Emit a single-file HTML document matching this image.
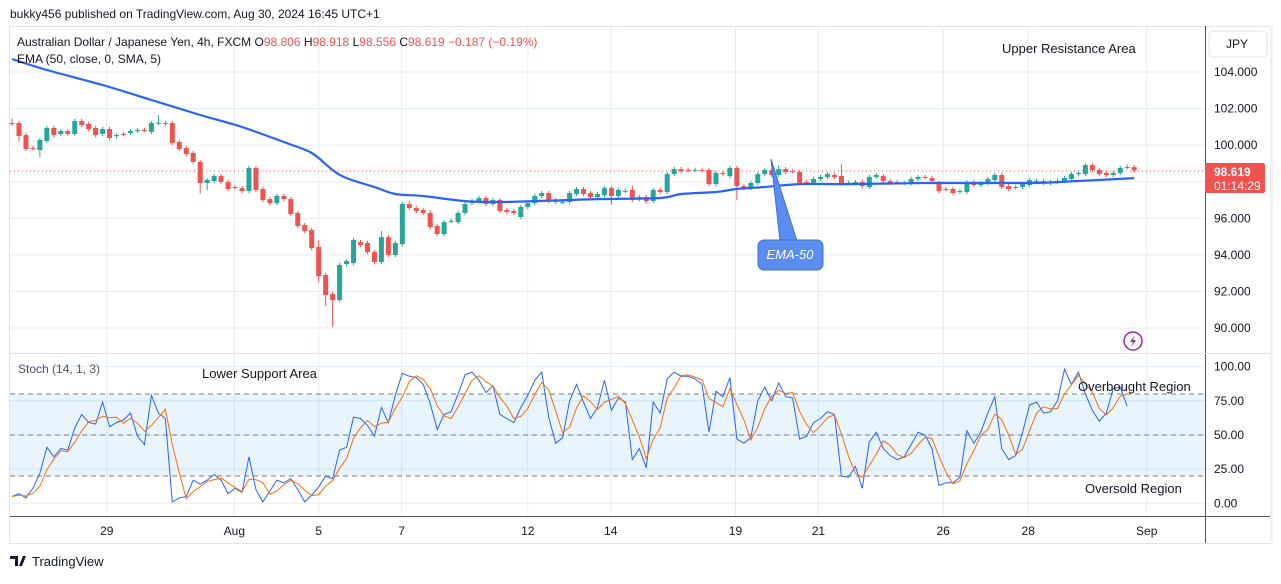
<!DOCTYPE html>
<html><head><meta charset="utf-8">
<style>
body{margin:0;width:1281px;height:579px;background:#fff;overflow:hidden;font-family:"Liberation Sans",sans-serif;}
svg text{font-family:"Liberation Sans",sans-serif;}
</style></head>
<body>
<svg id="chart" width="1281" height="579" viewBox="0 0 1281 579" xmlns="http://www.w3.org/2000/svg">
  <text x="10" y="18" font-size="12" fill="#131722">bukky456 published on TradingView.com, Aug 30, 2024 16:45 UTC+1</text>
  <rect x="9.5" y="26.5" width="1262" height="517" fill="none" stroke="#e0e3eb" stroke-width="1"/>
  <rect x="1270" y="26" width="3" height="518" fill="#eef0f3"/>
  <g id="grid"></g>
  <rect x="10" y="394" width="1195" height="82" fill="#2196f3" fill-opacity="0.1"/>
  <g id="stochlevels"></g>
  <line x1="10" x2="1205" y1="171" y2="171" stroke="#ef5350" stroke-width="1" stroke-dasharray="1,3"/>
  <g id="candles"></g>
  <path id="ema" fill="none" stroke="#2962ff" stroke-width="2.2" stroke-linejoin="round"/>
  <path id="stochK" fill="none" stroke="#2962ff" stroke-width="1"/>
  <path id="stochD" fill="none" stroke="#ff6d00" stroke-width="1"/>
  <line x1="1205.5" x2="1205.5" y1="26" y2="543" stroke="#50535e"/>
  <line x1="10" x2="1270" y1="353.5" y2="353.5" stroke="#e0e3eb"/>
  <line x1="10" x2="1205" y1="516.5" y2="516.5" stroke="#50535e"/>
  <line x1="1205" x2="1270" y1="516.5" y2="516.5" stroke="#50535e"/>
  <g id="axes"></g>
  <rect x="1209" y="31" width="58" height="26" rx="4" fill="#fff" stroke="#e0e3eb"/>
  <text x="1226" y="48" font-size="12" fill="#131722">JPY</text>
  <text x="17" y="46" font-size="12" fill="#131722">Australian Dollar / Japanese Yen, 4h, FXCM <tspan fill="#131722">O</tspan><tspan fill="#ef5350">98.806</tspan> <tspan fill="#131722">H</tspan><tspan fill="#ef5350">98.918</tspan> <tspan fill="#131722">L</tspan><tspan fill="#ef5350">98.556</tspan> <tspan fill="#131722">C</tspan><tspan fill="#ef5350">98.619 −0.187 (−0.19%)</tspan></text>
  <text x="17" y="63" font-size="12" fill="#131722">EMA (50, close, 0, SMA, 5)</text>
  <text x="18" y="373" font-size="12" fill="#50535e">Stoch (14, 1, 3)</text>
  <text x="1002" y="53" font-size="13" fill="#131722">Upper Resistance Area</text>
  <text x="202" y="378" font-size="13" fill="#131722">Lower Support Area</text>
  <text x="1078" y="391" font-size="13" fill="#131722">Overbought Region</text>
  <text x="1085" y="493" font-size="13" fill="#131722">Oversold Region</text>
  <path d="M771,159 L780,241 L797,241 Z" fill="#5b8def" stroke="#3d6fd6"/>
  <rect x="758" y="240" width="65" height="30" rx="6" fill="#5b8def" stroke="#3d6fd6"/>
  <text x="790" y="259" font-size="13" font-style="italic" fill="#fff" text-anchor="middle">EMA-50</text>
  <rect x="1205" y="163" width="60" height="30" rx="2" fill="#ef5350"/>
  <text x="1214" y="176" font-size="12" font-weight="bold" fill="#fff">98.619</text>
  <text x="1214" y="190" font-size="12" fill="#fff">01:14:29</text>
  <circle cx="1133" cy="341" r="9" fill="#fff" stroke="#9c27b0" stroke-width="1.5"/>
  <path d="M1135,335 L1130,342 L1133,342 L1131,347 L1136,340 L1133,340 Z" fill="#9c27b0"/>
  <text x="32" y="566" font-size="13" fill="#131722">TradingView</text>
  <path d="M10,556 h8 v10 h-3 v-7 h-5 Z M19,566 l4,-10 h3 l-4,10 Z" fill="#131722"/>
</svg>
<script>
// price data (AUD/JPY 4h)
const opens=[101.21,101.21,100.55,99.84,99.73,100.23,100.94,100.61,100.77,100.61,101.32,101.16,100.94,100.61,100.88,100.50,100.61,100.66,100.77,100.83,100.72,101.21,101.21,101.21,100.17,99.84,99.57,99.08,97.93,98.04,98.31,97.98,97.71,97.65,97.49,98.75,97.60,97.05,96.83,97.22,97.05,96.29,95.63,95.36,94.43,92.90,91.86,91.53,93.50,93.55,94.70,94.65,94.15,93.61,94.97,93.99,94.59,96.78,96.56,96.45,96.29,95.58,95.14,95.85,95.79,96.29,96.83,96.94,97.11,96.78,97.00,96.45,96.40,96.07,96.62,96.83,97.22,97.38,97.00,96.89,96.89,97.33,97.60,97.38,97.16,97.27,97.65,97.22,97.49,97.55,97.05,97.16,96.94,97.55,97.44,98.42,98.69,98.64,98.64,98.64,98.64,97.87,98.48,98.31,98.75,97.76,97.65,97.93,98.42,98.64,98.37,98.69,98.58,98.53,97.98,97.93,98.15,98.26,98.37,98.31,97.93,97.93,97.98,97.71,98.26,98.31,98.04,97.98,97.93,97.93,98.15,98.26,98.20,97.93,97.60,97.60,97.44,97.44,97.98,97.82,97.93,98.09,98.37,97.76,97.71,97.71,97.82,98.04,98.04,97.93,97.98,98.04,98.15,98.42,98.42,98.91,98.64,98.48,98.37,98.48,98.80,98.80];
const closes=[101.18,100.50,99.79,99.82,100.28,100.94,100.55,100.77,100.61,101.32,101.10,100.88,100.55,100.88,100.39,100.55,100.60,100.77,100.83,100.82,101.21,101.23,101.16,100.12,99.79,99.51,99.08,97.93,98.09,98.31,97.98,97.60,97.70,97.49,98.75,97.55,97.00,96.83,97.22,97.05,96.23,95.58,95.30,94.37,92.84,91.80,91.53,93.44,93.66,94.81,94.54,94.15,93.61,94.97,93.99,94.65,96.78,96.56,96.40,96.29,95.52,95.14,95.79,95.86,96.29,96.78,96.94,97.11,96.78,97.00,96.40,96.34,96.29,96.62,96.83,97.22,97.38,96.94,96.89,96.90,97.38,97.60,97.33,97.16,97.33,97.65,97.22,97.55,97.50,97.00,97.16,96.94,97.55,97.44,98.42,98.69,98.58,98.63,98.65,98.63,97.87,98.48,98.42,98.75,97.76,97.65,97.93,98.42,98.64,98.37,98.69,98.53,98.57,97.93,97.97,98.15,98.26,98.42,98.26,97.87,97.94,97.98,97.76,98.26,98.37,98.04,97.93,97.97,97.94,98.15,98.26,98.25,98.04,97.49,97.59,97.38,97.49,97.98,97.82,97.93,98.15,98.37,97.71,97.60,97.70,97.87,98.09,98.05,97.93,97.98,98.04,98.20,98.42,98.48,98.91,98.64,98.42,98.37,98.48,98.75,98.81,98.62];
const highExtra={21:101.65,27:99.20,44:94.80,53:95.30,57:96.95,60:96.45,89:97.80,104:98.85,110:98.90,119:98.95,161:98.92,0:101.45};
const lowExtra={46:90.05,45:91.20,27:97.35,28:97.55,104:97.00,86:96.75,44:92.50,1:100.20,4:99.35};
// EMA-50 samples (candle index, value)
const emaIdx=[0,5,13,20,27,33,39,43,46,48,52,55,59,65,70,75,80,84,93,96,101,104,108,113,120,132,146,153,161];
const emaVal=[104.71,104.11,103.29,102.47,101.65,100.99,100.17,99.57,98.64,98.20,97.71,97.33,97.22,96.94,96.89,96.94,97.00,97.05,97.11,97.33,97.44,97.60,97.71,97.87,97.87,97.93,97.93,98.04,98.20];
// Stochastic %K
const stochK=[5,7,4,11,22,41,34,40,39,55,65,59,58,74,56,59,61,66,49,43,79,66,62,1,4,5,17,14,17,21,17,7,11,8,34,10,1,9,17,15,18,10,1,6,12,20,18,39,41,63,62,57,49,70,59,79,95,93,92,87,73,54,65,67,80,94,96,90,81,86,65,62,59,70,79,90,96,63,44,48,75,87,74,62,70,90,68,77,74,32,40,26,74,66,91,96,93,93,91,87,52,82,78,92,47,44,48,75,85,75,88,78,77,47,49,59,62,67,65,20,19,27,11,45,52,40,35,32,34,43,52,50,40,13,15,15,19,53,44,52,66,78,40,32,35,52,72,74,66,67,75,98,87,96,80,68,60,66,84,85,71];
const priceTicks=[104,102,100,98,96,94,92,90];
const stochTicks=[100,75,50,25,0];
const dateLabels=["29","Aug","5","7","12","14","19","21","26","28","Sep"];
const dateIdx=[13.6,31.9,44,55.9,74,85.9,103.8,115.7,133.6,145.8,162.8];

const NS="http://www.w3.org/2000/svg";
const X=i=>12+6.97*i;
const PY=p=>72+(104-p)*18.286;
const SY=v=>503.3-v*1.367;
function mk(tag,attrs,parent){const e=document.createElementNS(NS,tag);for(const k in attrs)e.setAttribute(k,attrs[k]);parent.appendChild(e);return e;}
const grid=document.getElementById('grid'),axes=document.getElementById('axes');
priceTicks.forEach(p=>{
  const l=mk('line',{x1:10,x2:1205,y1:PY(p),y2:PY(p),stroke:'#e6edf5'},grid);
  
  
  const t=mk('text',{x:1214,y:PY(p)+4,'font-size':12,fill:'#131722'},axes);
  
  
  t.textContent=p.toFixed(3);
});
stochTicks.forEach(v=>{
  const l=mk('line',{x1:10,x2:1205,y1:SY(v),y2:SY(v),stroke:'#e6edf5'},grid);
  
  
  const t=mk('text',{x:1214,y:SY(v)+4,'font-size':12,fill:'#131722'},axes);
  
  
  t.textContent=v.toFixed(2);
});
dateLabels.forEach((d,k)=>{
  const x=X(dateIdx[k]);
  const l=mk('line',{x1:x,x2:x,y1:27,y2:516,stroke:'#e6edf5'},grid);
  
  
  const t=mk('text',{x:x,y:535,'font-size':12,fill:'#131722','text-anchor':'middle'},axes);
  
  
  t.textContent=d;
});
const sl=document.getElementById('stochlevels');
[80,50,20].forEach(v=>{
  const l=mk('line',{x1:10,x2:1205,y1:SY(v),y2:SY(v),stroke:'#787b86','stroke-dasharray':'5,4'},sl);
  
  
});
const cg=document.getElementById('candles');
opens.forEach((o,i)=>{
  const c=closes[i];const up=c>=o;const col=up?'#26a69a':'#ef5350';
  const top=Math.max(o,c),bot=Math.min(o,c);
  const hi=Math.max(top+0.12,highExtra[i]!==undefined?highExtra[i]:0);
  const lo=Math.min(bot-0.12,lowExtra[i]!==undefined?lowExtra[i]:1e9);
  const x=X(i);
  const w=mk('line',{x1:x,x2:x,y1:PY(hi),y2:PY(lo),stroke:col,'stroke-width':1},cg);
  
  
  const h=Math.max(1,PY(bot)-PY(top));
  const b=mk('rect',{x:x-2.5,y:PY(top),width:5,height:h,fill:col},cg);
  
  
});
// smooth EMA path (Catmull-Rom through samples)
const pts=emaIdx.map((i,k)=>[X(i),PY(emaVal[k])]);
let d='M'+pts[0][0].toFixed(1)+','+pts[0][1].toFixed(1);
for(let k=0;k<pts.length-1;k++){
  const p0=pts[Math.max(0,k-1)],p1=pts[k],p2=pts[k+1],p3=pts[Math.min(pts.length-1,k+2)];
  const c1=[p1[0]+(p2[0]-p0[0])/6,p1[1]+(p2[1]-p0[1])/6];
  const c2=[p2[0]-(p3[0]-p1[0])/6,p2[1]-(p3[1]-p1[1])/6];
  d+=' C'+c1[0].toFixed(1)+','+c1[1].toFixed(1)+' '+c2[0].toFixed(1)+','+c2[1].toFixed(1)+' '+p2[0].toFixed(1)+','+p2[1].toFixed(1);
}
document.getElementById('ema').setAttribute('d',d);
document.getElementById('stochK').setAttribute('d',stochK.map((v,i)=>(i?'L':'M')+X(i).toFixed(1)+','+SY(v).toFixed(1)).join(' '));
const stochD=stochK.map((v,i)=>{const a=stochK.slice(Math.max(0,i-2),i+1);return a.reduce((s,x)=>s+x,0)/a.length;});
document.getElementById('stochD').setAttribute('d',stochD.map((v,i)=>(i?'L':'M')+X(i).toFixed(1)+','+SY(v).toFixed(1)).join(' '));
</script>
</body></html>
